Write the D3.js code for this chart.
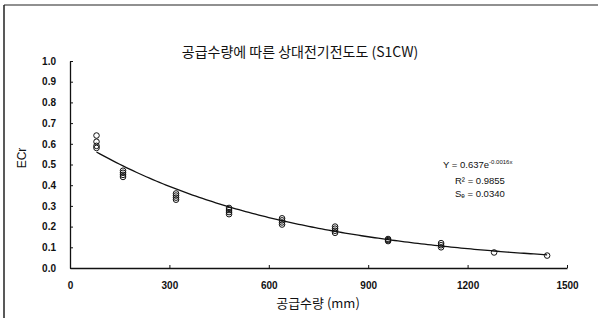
<!DOCTYPE html>
<html>
<head>
<meta charset="utf-8">
<script src="https://cdn.jsdelivr.net/npm/d3@7"></script>
<style>
  body { margin: 0; background: #fff; }
  svg { display: block; }
  .tick text { font-family: "Liberation Sans Narrow", "Arial Narrow", "Liberation Sans", sans-serif; font-weight: bold; font-size: 10px; fill: #111; }
</style>
</head>
<body>
<svg id="svg" width="598" height="321"></svg>
<script>
// supply amount (mm) and the ECr readings at each amount
var supply = [80, 160, 320, 480, 640, 800, 960, 1120, 1280, 1440];
var ecr = [
  [0.64, 0.61, 0.59, 0.58],
  [0.47, 0.46, 0.45, 0.44],
  [0.36, 0.35, 0.34, 0.33],
  [0.29, 0.28, 0.27, 0.26],
  [0.24, 0.23, 0.22, 0.21],
  [0.20, 0.19, 0.18, 0.17],
  [0.14, 0.135, 0.13],
  [0.12, 0.11, 0.10],
  [0.075],
  [0.06]
];
var xTicks = [0, 300, 600, 900, 1200, 1500];
var yTicks = [0, 0.1, 0.2, 0.3, 0.4, 0.5, 0.6, 0.7, 0.8, 0.9, 1.0];
// fitted curve Y = a * e^(k x)
var fitA = 0.637, fitK = -0.0016;
var fitText = ["Y = 0.637e", "R² = 0.9855", "Sₑ = 0.0340"];

var svg = d3.select("#svg");
var margin = {top: 61, left: 70, right: 31, bottom: 53};
var width = 598 - margin.left - margin.right,
    height = 321 - margin.top - margin.bottom;

// frame
svg.append("line").attr("x1", 4).attr("x2", 598).attr("y1", 5).attr("y2", 5)
  .attr("stroke", "#222").attr("stroke-width", 1.2);
svg.append("line").attr("x1", 4).attr("x2", 4).attr("y1", 5).attr("y2", 318)
  .attr("stroke", "#222").attr("stroke-width", 1.5);

var g = svg.append("g").attr("transform", "translate(" + margin.left + "," + margin.top + ")");

var x = d3.scaleLinear().domain([0, 1500]).range([0, width]);
var y = d3.scaleLinear().domain([0, 1]).range([height, 0]);

g.append("g").attr("transform", "translate(0," + height + ")")
  .call(d3.axisBottom(x).tickValues(xTicks).tickFormat(d3.format("d")).tickSizeInner(-3).tickSizeOuter(0).tickPadding(14));
g.append("g")
  .call(d3.axisLeft(y).tickValues(yTicks).tickFormat(d3.format(".1f")).tickSizeInner(-3).tickSizeOuter(0).tickPadding(14));
g.selectAll(".domain").attr("stroke", "#111").attr("stroke-width", 1.3);
g.selectAll(".tick line").attr("stroke", "#111");

// fit line
var fitX = d3.range(supply[0], supply[supply.length - 1] + 1, 10);
g.append("path")
  .datum(fitX)
  .attr("fill", "none").attr("stroke", "#111").attr("stroke-width", 1.3)
  .attr("d", d3.line().x(function(d) { return x(d); }).y(function(d) { return y(fitA * Math.exp(fitK * d)); }));

// points
var pts = [];
supply.forEach(function(s, i) { ecr[i].forEach(function(v) { pts.push({s: s, v: v}); }); });
g.selectAll("circle.pt").data(pts).enter().append("circle")
  .attr("cx", function(d) { return x(d.s); })
  .attr("cy", function(d) { return y(d.v); })
  .attr("r", 2.8)
  .attr("fill", "none").attr("stroke", "#111").attr("stroke-width", 1);

// titles
svg.append("text").attr("x", 300).attr("y", 57).attr("text-anchor", "middle")
  .attr("font-family", "Noto Sans CJK KR, sans-serif").attr("font-size", 14).attr("fill", "#111")
  .text("공급수량에 따른 상대전기전도도 (S1CW)");
svg.append("text").attr("x", 318).attr("y", 308).attr("text-anchor", "middle")
  .attr("font-family", "Noto Sans CJK KR, sans-serif").attr("font-size", 13).attr("fill", "#111")
  .text("공급수량 (mm)");
svg.append("text").attr("transform", "translate(26,158) rotate(-90)").attr("text-anchor", "middle")
  .attr("font-family", "Liberation Sans, sans-serif").attr("font-size", 12).attr("fill", "#111")
  .text("ECr");

// fit annotation
var ann = svg.append("g").attr("font-family", "Liberation Sans Narrow, Liberation Sans, sans-serif")
  .attr("font-size", 9.5).attr("fill", "#111");
var t0 = ann.append("text").attr("x", 443).attr("y", 168).text(fitText[0]);
t0.append("tspan").attr("dy", -4).attr("font-size", 6).text("-0.0016x");
ann.append("text").attr("x", 455).attr("y", 184).text(fitText[1]);
ann.append("text").attr("x", 455).attr("y", 197).text(fitText[2]);
</script>
</body>
</html>
